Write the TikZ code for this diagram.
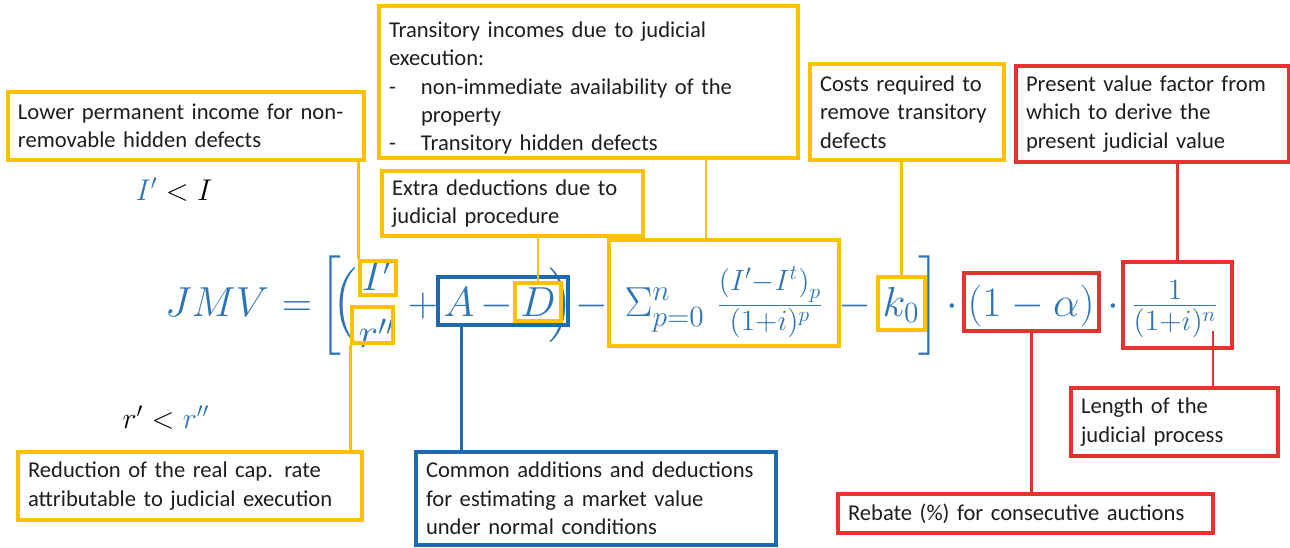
\RequirePackage{fix-cm}
\documentclass[tikz,border=0pt]{standalone}
\usepackage{amsmath}
\usepackage{exscale}
\usepackage[no-math]{fontspec}
\setmainfont{Carlito}

\definecolor{boxyellow}{HTML}{FFC000}
\definecolor{boxred}{HTML}{E8322F}
\definecolor{boxblue}{HTML}{2169AE}
\definecolor{mathblue}{HTML}{2E75B6}
\definecolor{captext}{HTML}{1E1E1E}

\newcommand{\bigmath}{\fontsize{21}{25}\selectfont}

\begin{document}
\begin{tikzpicture}[x=0.5pt, y=-0.5pt]

    % plocha obrazku v pixelech, (0,0) je levy horni roh
    \useasboundingbox (0,0) rectangle (1290,547);

    % styly
    \tikzset{
        note/.style={draw=#1, line width=1.6pt, inner sep=0pt, inner xsep=5pt,
            align=left, text=captext, font=\fontsize{11.3}{14.2}\selectfont},
        mark/.style={draw=#1, line width=1.6pt, inner sep=0pt},
        sz/.style 2 args={minimum width=#1*0.5pt, minimum height=#2*0.5pt},
        lead/.style={draw=#1, line width=1.25pt},
        fml/.style={anchor=base, inner sep=0pt, text=mathblue, font=\bigmath}
    }

    % --- vzorec ---
    \node[fml] (jmv)   at (217,316) {$JMV$};
    \node[fml] (eqs)   at (297,316) {$=$};
    \node[fml] (lbr)   at (332,316) {$\left[\vrule height 31pt depth 20.5pt width 0pt\right.$};
    \node[fml] (lpar)  at (346,316) {$\left(\vrule height 22pt depth 12pt width 0pt\right.$};
    \node[fml] (frac1) at (377,319) {$\dfrac{I'}{r''}$};
    \node[fml] (plus)  at (423,316) {$+$};
    \node[fml] (aa)    at (459,316) {$A$};
    \node[fml] (min1)  at (497,316) {$-$};
    \node[fml] (dd)    at (538,316) {$D$};
    \node[fml] (rpar)  at (560,316) {$\left.\vrule height 22pt depth 12pt width 0pt\right)$};
    \node[fml] (min2)  at (592,316) {$-$};
    \node[fml] (sum)   at (724,316) {$\Sigma_{p=0}^{n}\;\frac{\left(I'-I^{t}\right)_{p}}{(1+i)^{p}}$};
    \node[fml] (min3)  at (855,316) {$-$};
    \node[fml] (kk)    at (901,316) {$k_0$};
    \node[fml] (rbr)   at (928,316) {$\left.\vrule height 31pt depth 20.5pt width 0pt\right]$};
    \node[fml] (dot1)  at (952,316) {$\cdot$};
    \node[fml] (alpha) at (1031,316) {$(1-\alpha)$};
    \node[fml] (dot2)  at (1113,316) {$\cdot$};
    \node[fml] (frac2) at (1175,316) {$\frac{1}{(1+i)^{n}}$};
    \coordinate (nexp) at (1213,331);

    % --- ramecky ve vzorci ---
    \node[mark=boxyellow, sz={36}{34}]   (ipbox)  at (378,278) {};
    \node[mark=boxyellow, sz={41}{36}]   (rbox)   at (372.5,325) {};
    \node[mark=boxblue,   sz={130}{48}]  (adbox)  at (503,301) {};
    \node[mark=boxyellow, sz={46}{38}]   (dbox)   at (538,302) {};
    \node[mark=boxyellow, sz={230}{106}] (sumbox) at (724,293) {};
    \node[mark=boxyellow, sz={47}{53}]   (kbox)   at (901.5,303.5) {};
    \node[mark=boxred,    sz={135}{58}]  (abox)   at (1031.5,302) {};
    \node[mark=boxred,    sz={109}{86}]  (fbox)   at (1177.5,305) {};

    % --- popisky ---
    \node[note=boxyellow, sz={356}{68}, text width=168pt] (low) at (186,126)
        {Lower permanent income for non-\\removable hidden defects};
    \node[note=boxyellow, sz={419}{152}, text width=199.5pt] (trans) at (588.5,82)
        {\rule{0pt}{14pt}Transitory incomes due to judicial\\
         execution:\\
         \makebox[16pt][l]{-}non-immediate availability of the\\
         \hspace*{16pt}property\\
         \makebox[16pt][l]{-}Transitory hidden defects};
    \node[note=boxyellow, sz={261}{65}, text width=120.5pt] (extra) at (512.5,203.5)
        {Extra deductions due to\\judicial procedure};
    \node[note=boxyellow, sz={194}{96}, text width=87pt] (costs) at (907,112)
        {Costs required to\\remove transitory\\defects};
    \node[note=boxred, sz={273}{96}, text width=126.5pt] (pvf) at (1152.5,114)
        {Present value factor from\\which to derive the\\present judicial value};
    \node[note=boxred, sz={207}{68}, text width=93.5pt] (len) at (1174.5,422)
        {Length of the\\judicial process};
    \node[note=boxred, sz={375}{39}, text width=177.5pt] (rebate) at (1025.5,513.5)
        {Rebate (\%) for consecutive auctions};
    \node[note=boxyellow, sz={344}{68}, text width=162pt] (reduc) at (190,486)
        {Reduction of the real cap. rate\\attributable to judicial execution};
    \node[note=boxblue, sz={360}{93}, text width=170pt] (common) at (596,498.5)
        {Common additions and deductions\\for estimating a market value\\under normal conditions};

    % nerovnosti
    \node[anchor=base, font=\fontsize{15}{18}\selectfont] (ineqI) at (174,200)
        {$\textcolor{mathblue}{I'} < I$};
    \node[anchor=base, font=\fontsize{15}{18}\selectfont] (ineqr) at (166,428)
        {$r' < \textcolor{mathblue}{r''}$};

    % --- spojnice ---
    \draw[lead=boxyellow] (ipbox.north west) -- (ipbox.north west |- low.south);
    \draw[lead=boxyellow] (rbox.south west) -- (rbox.south west |- reduc.north);
    \draw[lead=boxyellow] ([xshift=-9pt]sumbox.north) -- ([xshift=-9pt]sumbox.north |- trans.south);
    \draw[lead=boxyellow] (dbox.north) -- (dbox.north |- extra.south);
    \draw[lead=boxyellow] (kbox.north) -- (kbox.north |- costs.south);
    \draw[lead=boxred] (fbox.north) -- (fbox.north |- pvf.south);
    \draw[lead=boxred] (abox.south) -- (abox.south |- rebate.north);
    \draw[lead=boxred] (nexp) -- (nexp |- len.north);
    \draw[lead=boxblue] ([xshift=12.5pt]adbox.south west) -- ([xshift=12.5pt]adbox.south west |- common.north);

\end{tikzpicture}
\end{document}
